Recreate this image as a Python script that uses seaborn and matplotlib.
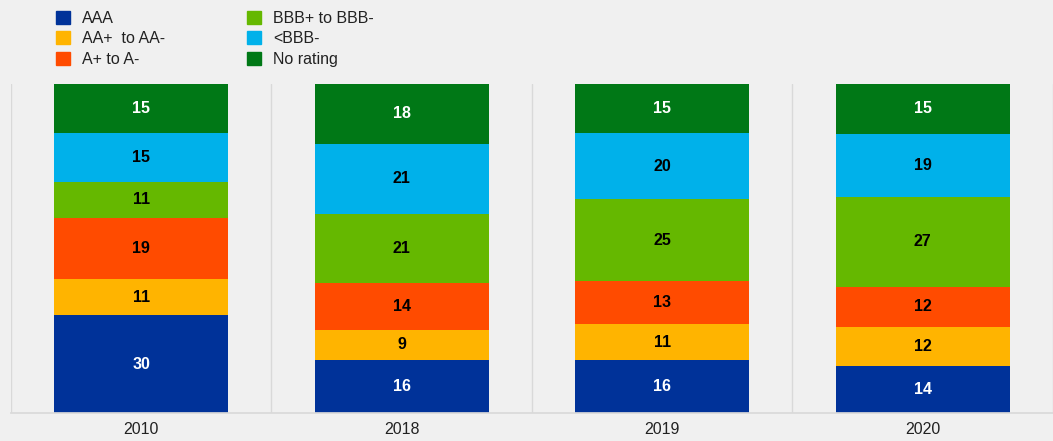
import matplotlib
matplotlib.use("Agg")
import matplotlib.pyplot as plt
import matplotlib.patches as mpatches
import numpy as np
import seaborn as sns

# data (shares in %)
years = ["2010", "2018", "2019", "2020"]
series = ["AAA", "AA+  to AA-", "A+ to A-", "BBB+ to BBB-", "<BBB-", "No rating"]
aaa = [30, 16, 16, 14]
aa = [11, 9, 11, 12]
a = [19, 14, 13, 12]
bbb = [11, 21, 25, 27]
below_bbb = [15, 21, 20, 19]
no_rating = [15, 18, 15, 15]

colors = ["#003299", "#ffb400", "#ff4b00", "#65b800", "#00b1ea", "#007816"]
text_colors = ["white", "black", "black", "black", "black", "white"]

sns.set_theme(style="white")
plt.rcParams["font.family"] = ["Liberation Sans", "DejaVu Sans"]

vals = np.array([aaa, aa, a, bbb, below_bbb, no_rating], dtype=float)
# bars are drawn as 100% stacks
shares = vals / vals.sum(axis=0) * 100
cum = shares.cumsum(axis=0)

fig = plt.figure(figsize=(10.53, 4.41), dpi=100)
fig.patch.set_facecolor("#f0f0f0")
ax = fig.add_axes([0.0104, 0.0635, 0.9896, 0.746])
ax.set_facecolor("#f0f0f0")

# draw cumulative bars from the top layer down so they stack
for i in range(len(series) - 1, -1, -1):
    sns.barplot(x=years, y=cum[i], color=colors[i], width=0.667,
                saturation=1, linewidth=0, ax=ax)

for i in range(len(series)):
    for j in range(len(years)):
        ax.text(j, cum[i, j] - shares[i, j] / 2, str(int(vals[i, j])),
                ha="center", va="center", fontsize=11.5, fontweight="bold",
                color=text_colors[i])

for xv in [-0.5, 0.5, 1.5, 2.5, 3.5]:
    ax.axvline(xv, color="#d9d9d9", linewidth=1, zorder=0)

ax.set_xlim(-0.5, 3.5)
ax.set_ylim(0, 100)
ax.set_yticks([])
ax.set_xlabel("")
ax.set_ylabel("")
for s in ["top", "left", "right"]:
    ax.spines[s].set_visible(False)
ax.spines["bottom"].set_color("#d9d9d9")
ax.tick_params(axis="x", length=0, pad=6.5, labelsize=11.5, labelcolor="#222222")

handles = [mpatches.Patch(color=c, label=l) for c, l in zip(colors, series)]
fig.legend(handles=handles, ncol=2, loc="upper left",
           bbox_to_anchor=(0.040, 1.007), frameon=False, fontsize=11.5,
           handlelength=0.875, handleheight=0.875, handletextpad=0.75,
           labelspacing=0.32, columnspacing=5.1, labelcolor="#222222")

fig.savefig("out.png", dpi=100, facecolor=fig.get_facecolor())
